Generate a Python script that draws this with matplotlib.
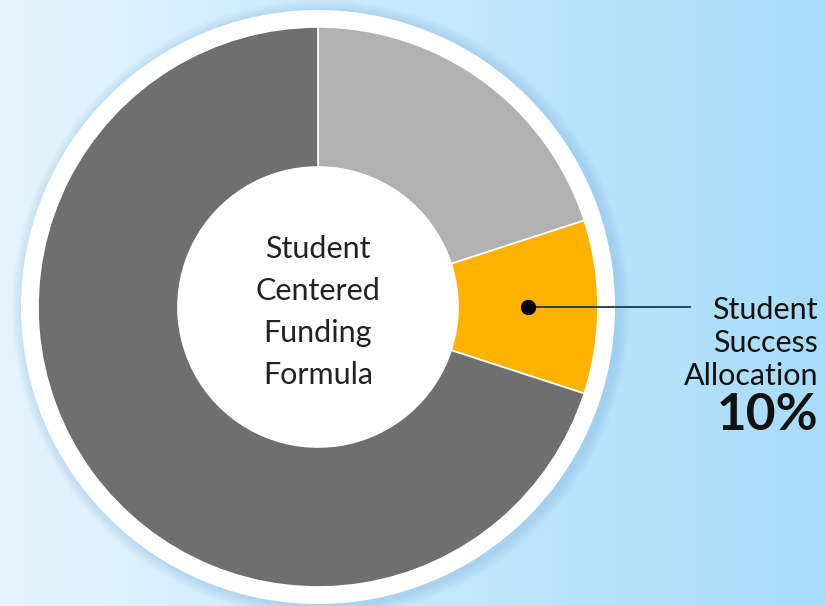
"""
    Student Centered Funding Formula - donut chart
"""
import numpy as np
import matplotlib.pyplot as plt
from matplotlib.patches import Circle
from matplotlib.colors import LinearSegmentedColormap

# -- Data --
labels = ['Supplemental', 'Student Success Allocation', 'Base']
shares = [20, 10, 70]
colors = ['#b1b1b1', '#ffb300', '#6f6f6f']
center_text = 'Student\nCentered\nFunding\nFormula'
callout_text = 'Student\nSuccess\nAllocation'
callout_value = '10%'

plt.rcParams['font.family'] = ['Lato', 'DejaVu Sans']

W, H = 826, 606
fig = plt.figure(figsize=(W / 100, H / 100), dpi=100)
ax = fig.add_axes([0, 0, 1, 1])

# -- background gradient --
bg = LinearSegmentedColormap.from_list('bg', ['#e6f4fe', '#c6e8fc', '#a9dcfa'])
grad = np.linspace(0, 1, 256).reshape(1, -1)
ax.imshow(grad, cmap=bg, extent=[0, W, 0, H], aspect='auto', zorder=0)

cx, cy = 318, H - 307
r_out, ring = 280, 140

# -- soft shadow + white rim --
for k in range(12):
    ax.add_patch(Circle((cx + 3, cy - 2), 297 + 12 - k, color='#7fb6dc', alpha=0.03, lw=0, zorder=1))
ax.add_patch(Circle((cx, cy), 297, color='white', lw=0, zorder=2))

wedges, _ = ax.pie(shares, colors=colors, startangle=90, counterclock=False,
                   radius=r_out, center=(cx, cy),
                   wedgeprops=dict(width=ring, edgecolor='white', linewidth=1.2))
for w in wedges:
    w.set_zorder(3)

ax.text(cx, cy - 5, center_text, ha='center', va='center', fontsize=22,
        linespacing=1.62, color='#222222', zorder=4)

# -- callout on the orange slice --
w = wedges[1]
ang = np.deg2rad((w.theta1 + w.theta2) / 2)
r_mid = r_out - ring / 2
px, py = cx + r_mid * np.cos(ang), cy + r_mid * np.sin(ang)
ax.plot([px, 690], [py, py], color='#1f3550', lw=1.3, zorder=5)
ax.plot(px, py, 'o', color='black', ms=10, zorder=6)

ax.text(818, H - 343, callout_text, ha='right', va='center', fontsize=22,
        linespacing=1.2, color='#111111', zorder=5)
ax.text(818, H - 416, callout_value, ha='right', va='center', fontsize=37,
        fontweight='bold', color='#111111', zorder=5)

ax.set_xlim(0, W)
ax.set_ylim(0, H)
ax.set_aspect('auto')
ax.axis('off')

fig.savefig('out.png', dpi=100)
